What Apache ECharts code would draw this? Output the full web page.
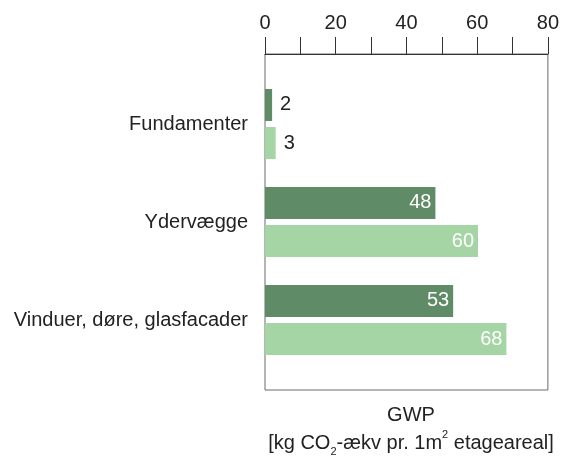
<!DOCTYPE html>
<html>
<head>
<meta charset="utf-8">
<script src="https://cdn.jsdelivr.net/npm/echarts@6/dist/echarts.min.js"></script>
<style>
  html, body { margin: 0; padding: 0; background: #fff; }
  #chart { width: 562px; height: 461px; }
</style>
</head>
<body>
<div id="chart"></div>
<script>
var categories = ['Fundamenter', 'Ydervægge', 'Vinduer, døre, glasfacader'];
var darkValues = [2, 48, 53];
var lightValues = [3, 60, 68];
var xTicks = [0, 20, 40, 60, 80];

var font = 'Liberation Sans';

function barData(values) {
    return values.map(function (v) {
        return {
            value: v,
            label: v < 10
                ? { position: 'right', color: '#222', distance: 8 }
                : { position: 'insideRight', color: '#fff', distance: 4 }
        };
    });
}

echarts.init(document.getElementById('chart'))
    .setOption({
        animation: false,
        textStyle: { fontFamily: font },
        grid: [
            { left: 265, right: 13, top: 54, bottom: 71, show: true, borderColor: '#6b6b6b', borderWidth: 1 },
            { left: 265, right: 13, top: 75, height: 294 }
        ],
        xAxis: [
            {
                gridIndex: 0,
                type: 'value',
                position: 'top',
                min: xTicks[0],
                max: xTicks[xTicks.length - 1],
                interval: 20,
                axisLine: { show: true, onZero: false, lineStyle: { color: '#333', width: 1 } },
                axisTick: { show: true, inside: false, length: 17, lineStyle: { color: '#333' } },
                minorTick: { show: true, splitNumber: 2, length: 17, lineStyle: { color: '#333' } },
                splitLine: { show: false },
                axisLabel: { fontSize: 20, color: '#222', margin: 21, fontFamily: font }
            },
            {
                gridIndex: 1,
                type: 'value',
                min: 0,
                max: 80,
                show: false
            }
        ],
        yAxis: [
            {
                gridIndex: 0,
                type: 'value',
                show: false
            },
            {
                gridIndex: 1,
                type: 'category',
                inverse: true,
                data: categories,
                axisLine: { show: false },
                axisTick: { show: false },
                axisLabel: { fontSize: 20, color: '#222', margin: 17, fontFamily: font }
            }
        ],
        title: {
            left: 406,
            top: 396,
            textAlign: 'center',
            text: 'GWP\n{n|[kg CO}{s|2}{n|-ækv pr. 1m}{p|2}{n| etageareal]}',
            textStyle: {
                fontSize: 20,
                fontWeight: 'normal',
                color: '#222',
                fontFamily: font,
                lineHeight: 28,
                rich: {
                    n: { fontSize: 20, color: '#222', fontFamily: font },
                    s: { fontSize: 11, color: '#222', fontFamily: font, verticalAlign: 'bottom', padding: [6, 0, 0, 0] },
                    p: { fontSize: 11, color: '#222', fontFamily: font, verticalAlign: 'top', padding: [0, 0, 4, 0] }
                }
            }
        },
        series: [
            {
                type: 'bar',
                xAxisIndex: 1,
                yAxisIndex: 1,
                data: barData(darkValues),
                barWidth: 32,
                barGap: '19%',
                itemStyle: { color: '#5f8b66' },
                label: { show: true, fontSize: 20, fontFamily: font }
            },
            {
                type: 'bar',
                xAxisIndex: 1,
                yAxisIndex: 1,
                data: barData(lightValues),
                barWidth: 32,
                itemStyle: { color: '#a5d4a5' },
                label: { show: true, fontSize: 20, fontFamily: font }
            }
        ]
    });
</script>
</body>
</html>
